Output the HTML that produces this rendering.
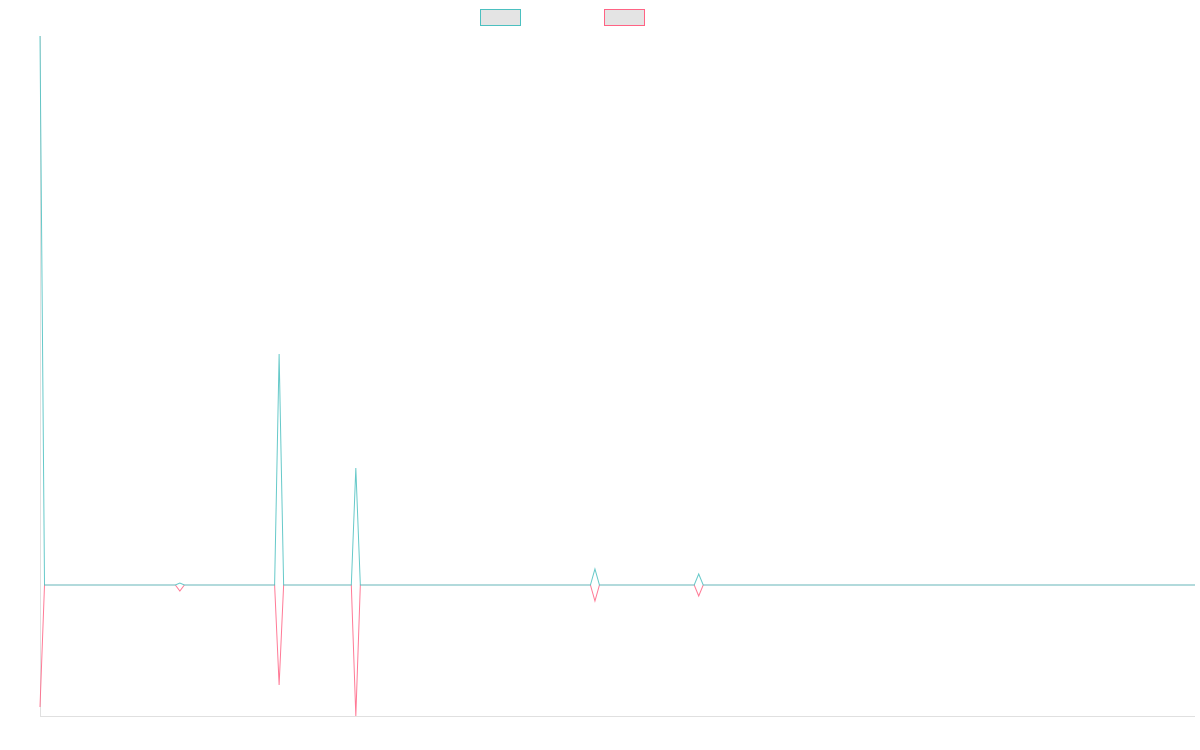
<!DOCTYPE html>
<html><head><meta charset="utf-8"><style>
html,body{margin:0;padding:0;background:#fff;width:1200px;height:750px;overflow:hidden;font-family:"Liberation Sans",sans-serif}
</style></head><body>
<svg id="chart" width="1200" height="750" xmlns="http://www.w3.org/2000/svg">
<g>
<rect x="480.5" y="9.5" width="40" height="16" fill="#e4e4e4" stroke="#4bc0c0" stroke-width="1"/>
<rect x="604.5" y="9.5" width="40" height="16" fill="#e4e4e4" stroke="#ff6384" stroke-width="1"/>
</g>
<line x1="40.5" y1="36" x2="40.5" y2="716.5" stroke="#e0e0e0"/>
<line x1="40" y1="716.5" x2="1195" y2="716.5" stroke="#e0e0e0"/>
<g id="series"></g>
</svg>
<script>
const pointCount = 257;
const spikeIndices = [0, 31, 53, 70, 123, 146];
const seriesA = [549, 2, 231, 117, 16, 11];
const seriesB = [-122, -6, -100, -131, -16, -11];
const yMin = -131, yMax = 549;

const x = i => 40 + i * (1155 / (pointCount - 1));
const y = v => 716 - (v - yMin) / (yMax - yMin) * 680;

function build(vals) {
  const arr = new Array(pointCount).fill(0);
  spikeIndices.forEach((idx, k) => arr[idx] = vals[k]);
  return arr.map((v, i) => (i ? 'L' : 'M') + x(i).toFixed(2) + ' ' + y(v).toFixed(2)).join(' ');
}
const g = document.getElementById('series');
[[seriesB, '#ff6384', 'series-b-line'], [seriesA, '#4bc0c0', 'series-a-line']].forEach(([vals, col, name]) => {
  const p = document.createElementNS('http://www.w3.org/2000/svg', 'path');
  
  
  p.setAttribute('d', build(vals));
  p.setAttribute('fill', 'none');
  p.setAttribute('stroke', col);
  p.setAttribute('stroke-width', '1');
  p.setAttribute('stroke-opacity', '0.85');
  g.appendChild(p);
});
</script>
</body></html>
